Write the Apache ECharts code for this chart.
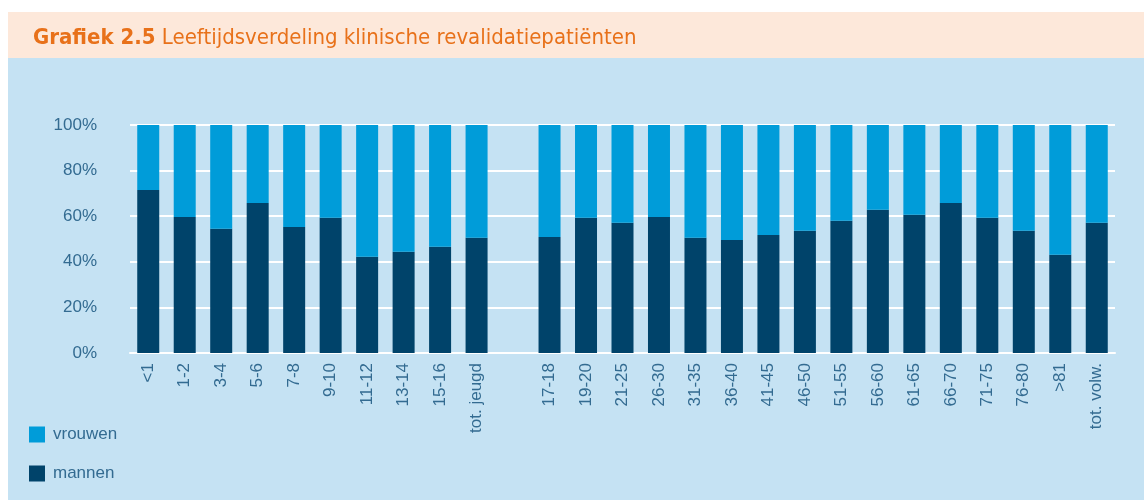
<!DOCTYPE html>
<html>
<head>
<meta charset="utf-8">
<script src="https://cdn.jsdelivr.net/npm/echarts@6/dist/echarts.min.js"></script>
<style>
  html, body { margin: 0; padding: 0; background: #fff; }
  #chart { width: 1144px; height: 502px; }
</style>
</head>
<body>
<div id="chart"></div>
<script>
// leeftijdscategorieën (lege categorie = ruimte tussen jeugd en volwassenen)
const categories = [
  '<1', '1-2', '3-4', '5-6', '7-8', '9-10', '11-12', '13-14', '15-16', 'tot. jeugd',
  '',
  '17-18', '19-20', '21-25', '26-30', '31-35', '36-40', '41-45', '46-50', '51-55',
  '56-60', '61-65', '66-70', '71-75', '76-80', '>81', 'tot. volw.'
]

// aandeel mannen (%)
const mannen = [
  71.5, 59.7, 54.5, 65.8, 55.3, 59.3, 42.2, 44.4, 46.6, 50.5,
  null,
  50.9, 59.3, 57.1, 59.7, 50.5, 49.6, 51.8, 53.6, 58.0,
  62.8, 60.6, 65.8, 59.3, 53.6, 43.1, 57.1
]

// aandeel vrouwen (%)
const vrouwen = [
  28.5, 40.3, 45.5, 34.2, 44.7, 40.7, 57.8, 55.6, 53.4, 49.5,
  null,
  49.1, 40.7, 42.9, 40.3, 49.5, 50.4, 48.2, 46.4, 42.0,
  37.2, 39.4, 34.2, 40.7, 46.4, 56.9, 42.9
]

const yTicks = [0, 20, 40, 60, 80, 100]

const textColor = '#336b91'
const font = '"Liberation Sans", Arial, sans-serif'
const titleFont = '"DejaVu Sans Condensed", "Liberation Sans Narrow", sans-serif'

const chart = echarts.init(document.getElementById('chart'))

const option = {
  animation: false,
  textStyle: { fontFamily: font },
  graphic: [
    {
      type: 'rect', silent: true, z: -10,
      shape: { x: 8, y: 12, width: 1136, height: 46 },
      style: { fill: '#fde8da' }
    },
    {
      type: 'rect', silent: true, z: -10,
      shape: { x: 8, y: 58, width: 1136, height: 442 },
      style: { fill: '#c5e2f3' }
    },
    {
      type: 'text', left: 33, top: 27,
      style: {
        text: '{b|Grafiek 2.5} Leeftijdsverdeling klinische revalidatiepatiënten',
        fill: '#e8711a',
        font: '22px ' + titleFont,
        rich: {
          b: {
            fontWeight: 'bold',
            fontSize: 22,
            fontFamily: titleFont,
            fill: '#e8711a'
          }
        }
      }
    }
  ],
  legend: {
    orient: 'vertical',
    left: 29,
    top: 426,
    padding: 0,
    itemWidth: 16,
    itemHeight: 16,
    itemGap: 22,
    icon: 'rect',
    data: ['vrouwen', 'mannen'],
    textStyle: { color: textColor, fontSize: 17, fontFamily: font, padding: [0, 0, 0, 3] }
  },
  grid: {
    left: 130,
    right: 29,
    top: 125,
    bottom: 149
  },
  xAxis: {
    type: 'category',
    data: categories,
    axisLine: { show: true, lineStyle: { color: '#ffffff', width: 2 } },
    axisTick: { show: false },
    axisLabel: {
      rotate: 90,
      interval: 0,
      margin: 10,
      color: textColor,
      fontSize: 17,
      fontFamily: font
    }
  },
  yAxis: {
    type: 'value',
    min: yTicks[0],
    max: yTicks[yTicks.length - 1],
    interval: 20,
    axisLine: { show: false },
    axisTick: { show: false },
    axisLabel: {
      formatter: '{value}%',
      margin: 33,
      color: textColor,
      fontSize: 17,
      fontFamily: font
    },
    splitLine: { lineStyle: { color: '#ffffff', width: 2 } }
  },
  series: [
    {
      name: 'mannen',
      type: 'bar',
      stack: 'totaal',
      barWidth: 22,
      data: mannen,
      itemStyle: { color: '#00436a' }
    },
    {
      name: 'vrouwen',
      type: 'bar',
      stack: 'totaal',
      barWidth: 22,
      data: vrouwen,
      itemStyle: { color: '#009cd9' }
    }
  ]
}

chart.setOption(option)
</script>
</body>
</html>
